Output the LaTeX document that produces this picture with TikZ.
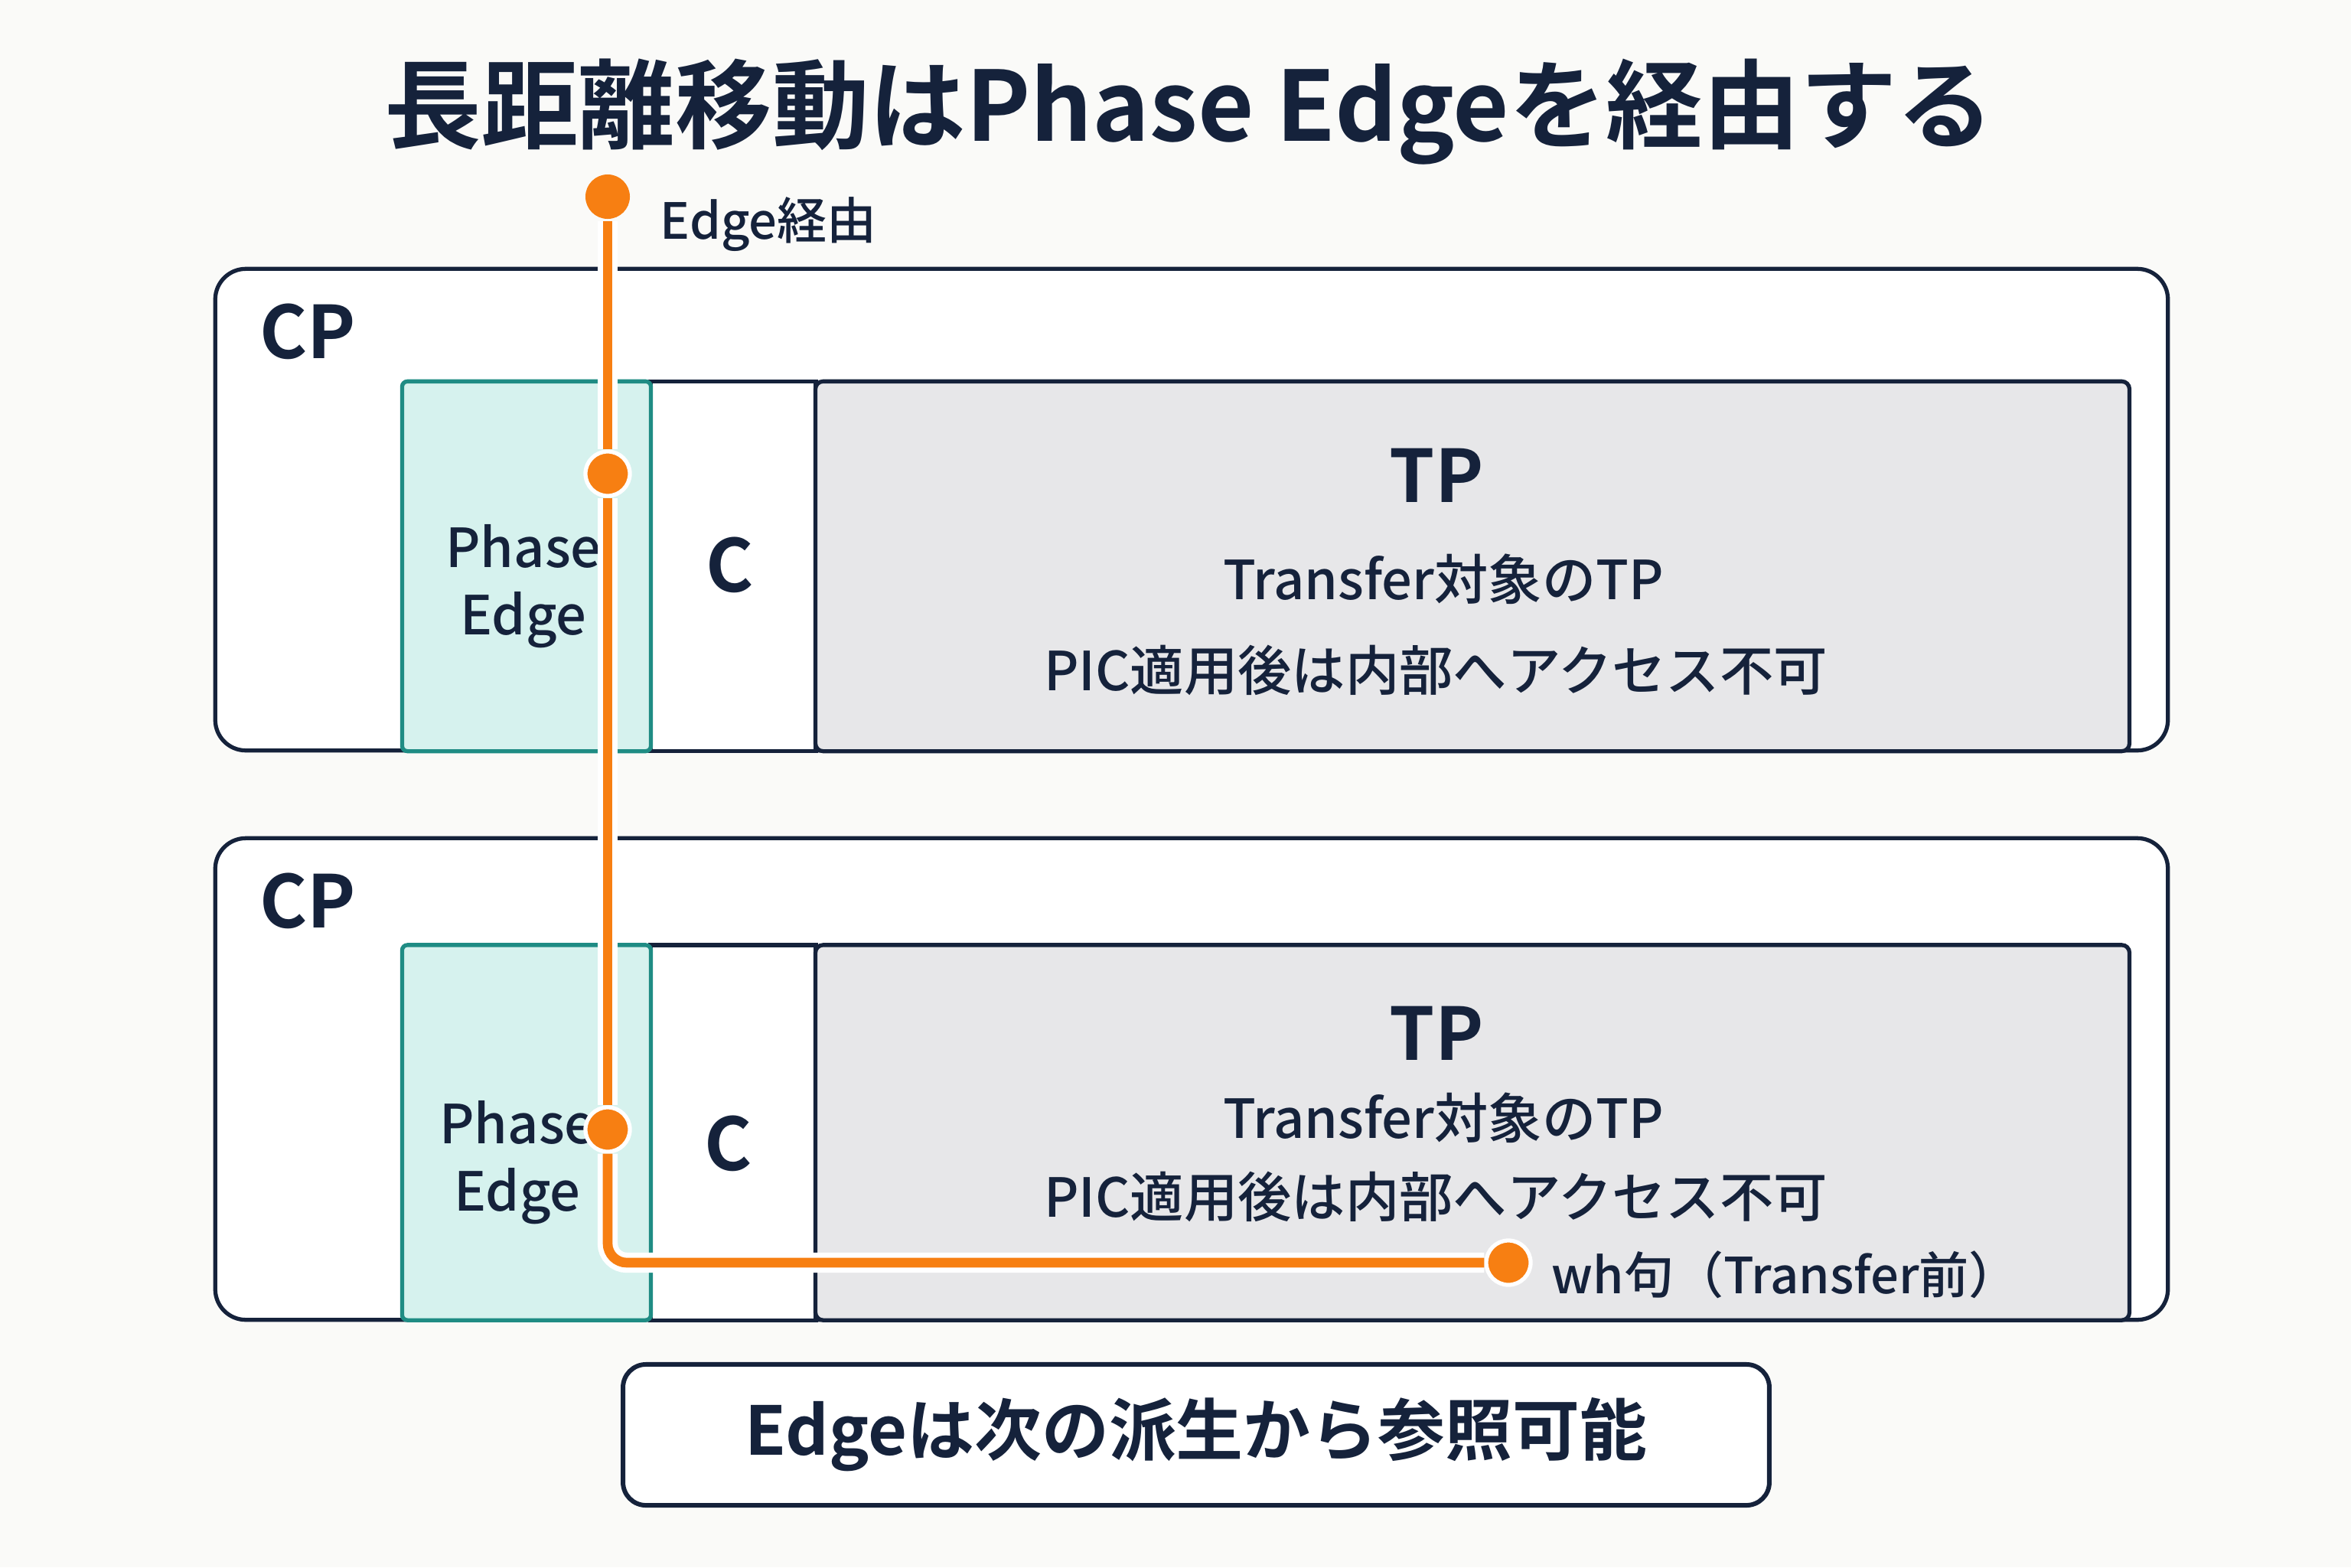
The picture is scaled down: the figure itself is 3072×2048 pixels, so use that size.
\documentclass[tikz,border=0pt]{standalone}
\usepackage{fontspec}
\setmainfont{Noto Sans CJK JP}[UprightFont=* Medium, BoldFont=* Bold]
\usetikzlibrary{positioning}
\definecolor{ink}{HTML}{15223B}
\definecolor{edgeteal}{HTML}{1F8C84}
\definecolor{edgefill}{HTML}{D6F2EE}
\definecolor{tpgray}{HTML}{E7E7E9}
\definecolor{orng}{HTML}{F77F12}
\definecolor{paper}{HTML}{FAFAF8}

\begin{document}
\begin{tikzpicture}[
    x=0.01cm, y=-0.01cm,
    cp/.style={draw=ink, line width=1.5pt, fill=white, rounded corners=0.4cm, minimum width=25.5cm, minimum height=6.29cm, inner sep=0pt},
    phase/.style={draw=edgeteal, line width=1.5pt, fill=edgefill, rounded corners=2pt, minimum width=3.25cm, inner sep=0pt},
    cbox/.style={draw=ink, line width=1.5pt, fill=white, minimum width=2.16cm, inner sep=0pt},
    tpbox/.style={draw=ink, line width=1.5pt, fill=tpgray, rounded corners=0.1cm, minimum width=17.16cm, inner sep=0pt},
    note/.style={draw=ink, line width=1.7pt, fill=white, rounded corners=0.3cm, minimum width=14.97cm, minimum height=1.84cm, text=ink, font=\fontsize{25pt}{30pt}\selectfont\bfseries},
    big/.style={text=ink, inner sep=0pt, font=\fontsize{27pt}{32pt}\selectfont\bfseries},
    pelbl/.style={text=ink, inner sep=0pt, align=center, font=\fontsize{20pt}{25pt}\selectfont},
    lbl/.style={text=ink, inner sep=0pt, font=\fontsize{20pt}{24pt}\selectfont},
    small/.style={text=ink, inner sep=0pt, font=\fontsize{18.5pt}{22pt}\selectfont},
    dot/.style={circle, fill=orng, draw=white, line width=1.5pt, minimum size=0.58cm, inner sep=0pt},
    wire/.style={draw=orng, line width=3.6pt, rounded corners=0.25cm, preaction={draw=white, line width=7.5pt}}
]
    \fill[paper] (0,0) rectangle (3072,2048);
    \useasboundingbox (0,0) rectangle (3072,2048);

    \node[text=ink, inner sep=0pt, anchor=base, font=\fontsize{36pt}{42pt}\selectfont\bfseries] (title) at (1554,184) {長距離移動はPhase Edgeを経由する};

    \node[cp] (cp1) at (1557,666) {};
    \node[cbox, minimum height=4.83cm] (c1) at (958,740) {};
    \node[tpbox, minimum height=4.83cm] (tp1) at (1924,740) {};
    \node[phase, minimum height=4.83cm] (pe1) at (688,740) {};
    \node[big, anchor=base west] (cp1lbl) at (339,468) {CP};
    \node[pelbl] (pe1lbl) at (684,766) {Phase\\Edge};
    \node[big] (c1lbl) at (954,738) {C};
    \node[big] (tp1lbl) at (1877,621) {TP};
    \node[lbl, anchor=base] (tp1a) at (1886,783) {Transfer対象のTP};
    \node[lbl, anchor=base] (tp1b) at (1876,902) {PIC適用後は内部へアクセス不可};

    \node[cp] (cp2) at (1557,1410) {};
    \node[cbox, minimum height=4.9cm] (c2) at (958,1480) {};
    \node[tpbox, minimum height=4.9cm] (tp2) at (1924,1480) {};
    \node[phase, minimum height=4.9cm] (pe2) at (688,1480) {};
    \node[big, anchor=base west] (cp2lbl) at (339,1212) {CP};
    \node[pelbl] (pe2lbl) at (676,1519) {Phase\\Edge};
    \node[big] (c2lbl) at (952,1494) {C};
    \node[big] (tp2lbl) at (1877,1350) {TP};
    \node[lbl, anchor=base] (tp2a) at (1886,1487) {Transfer対象のTP};
    \node[lbl, anchor=base] (tp2b) at (1876,1590) {PIC適用後は内部へアクセス不可};

    \node[note] (ref) at (1563,1875) {Edgeは次の派生から参照可能};

    \node[dot, draw=none] (d0) at (794,257) {};
    \node[dot] (d1) at (794,619) {};
    \node[dot] (d2) at (794,1476) {};
    \node[dot] (d3) at (1971,1650) {};
    \draw[wire] (d0) -- (d1);
    \draw[wire] (d1) -- (d2);
    \draw[wire] (d2) |- (d3);
    \node[small, anchor=base west] (via) at (862,312) {Edge経由};
    \node[small, anchor=base west] (wh) at (2027,1690) {wh句（Transfer前）};
\end{tikzpicture}
\end{document}
